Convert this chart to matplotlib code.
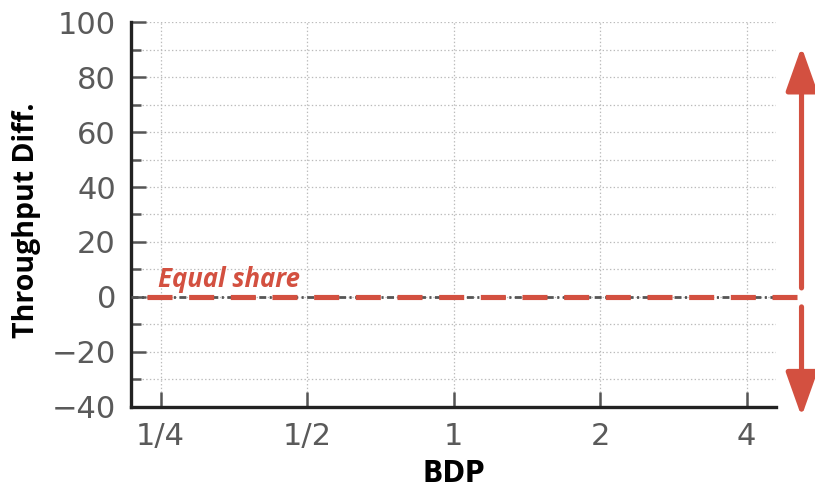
import matplotlib.pyplot as plt
import matplotlib.ticker as mticker

# dati
bdp_labels = ['1/4', '1/2', '1', '2', '4']
bdp_pos = [0, 1, 2, 3, 4]
equal_share = 0
y_ticks = [-40, -20, 0, 20, 40, 60, 80, 100]

rosso = '#d35040'
grigio = '#555555'

plt.rcParams['lines.scale_dashes'] = False

fig = plt.figure(figsize=(8.15, 4.87), dpi=100)
ax = fig.add_axes([0.161, 0.1643, 0.791, 0.7905])

ax.set_xlim(-0.2, 4.2)
ax.set_ylim(-40, 100)

# linea di riferimento: grigio tratteggiato sotto, rosso sopra
ax.plot([-0.2, 4.2], [equal_share, equal_share], color=grigio, lw=2,
        dashes=(5, 2.5, 1.5, 2.5), zorder=3, clip_on=False)
ax.plot([-0.09, 4.37], [equal_share, equal_share], color=rosso, lw=3.7,
        dashes=(18, 12), zorder=4, clip_on=False)

ax.text(-0.02, 3.6, 'Equal share', color=rosso, fontsize=18.5,
        fontweight='bold', fontstyle='italic', family='Open Sans',
        ha='left', va='baseline')

# frecce
stile = dict(arrowstyle='-|>,head_length=1.35,head_width=0.48', color=rosso,
             lw=3.7, mutation_scale=20, shrinkA=0, shrinkB=0)
ax.annotate('', xy=(4.375, 91), xytext=(4.375, 3.3), arrowprops=stile,
            annotation_clip=False)
ax.annotate('', xy=(4.375, -43.5), xytext=(4.375, -3.6), arrowprops=stile,
            annotation_clip=False)

# assi
ax.set_xticks(bdp_pos)
ax.set_xticklabels(bdp_labels)
ax.set_yticks(y_ticks)
ax.yaxis.set_minor_locator(mticker.MultipleLocator(10))

ax.grid(True, which='both', axis='y', ls=':', color='#bbbbbb', lw=0.9)
ax.grid(True, which='major', axis='x', ls=':', color='#bbbbbb', lw=0.9)
ax.set_axisbelow(True)

for s in ['top', 'right']:
    ax.spines[s].set_visible(False)
for s in ['left', 'bottom']:
    ax.spines[s].set_linewidth(2.4)
    ax.spines[s].set_color('#222222')

ax.tick_params(axis='both', which='major', direction='in', length=11,
               width=1.8, color=grigio, labelcolor='#5a5a5a', labelsize=22)
ax.tick_params(axis='y', which='minor', direction='in', length=7,
               width=1.8, color=grigio)
ax.tick_params(axis='y', pad=11)
ax.tick_params(axis='x', pad=11)
for lab in ax.get_xticklabels() + ax.get_yticklabels():
    lab.set_family('DejaVu Sans')

ax.set_xlabel('BDP', fontsize=21.5, fontweight='bold', family='DejaVu Sans',
              fontstretch='condensed')
ax.xaxis.set_label_coords(0.5, -0.135)
ax.set_ylabel('Throughput Diff.', fontsize=20.5, fontweight='bold',
              family='Open Sans')
ax.yaxis.set_label_coords(-0.14, 0.485)

plt.savefig('out.png', dpi=100)
